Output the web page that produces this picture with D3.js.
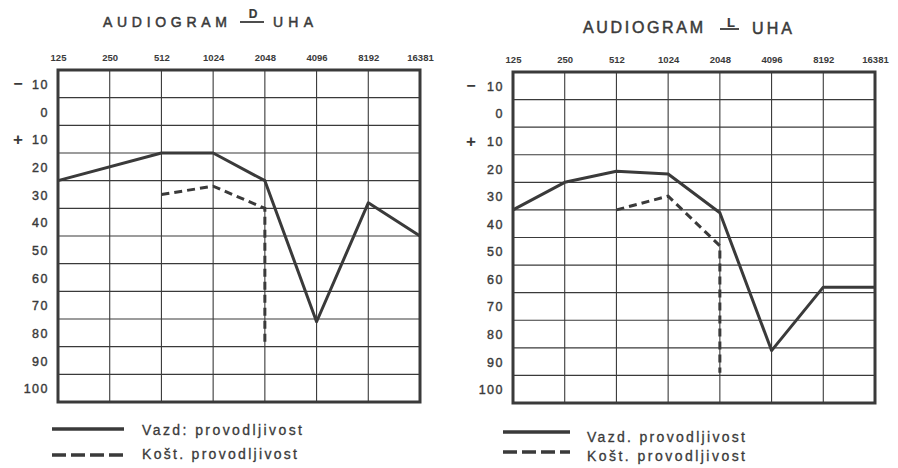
<!DOCTYPE html>
<html><head><meta charset="utf-8">
<script src="https://cdn.jsdelivr.net/npm/d3@7"></script>
<style>html,body{margin:0;padding:0;background:#fff;}svg{display:block;}</style>
</head><body>
<svg id="c" width="898" height="468"></svg>
<script>
// ---- data ----
const freqLabels = ["125","250","512","1024","2048","4096","8192","16381"];
const dbLabels = [-10,0,10,20,30,40,50,60,70,80,90,100];
const leftAirFreq = ["125","512","1024","2048","4096","8192","16381"];
const leftAirDb   = [25,15,15,25,76,33,45];
const leftBoneFreq = ["512","1024","2048","2048"];
const leftBoneDb   = [30,27,35,85];
const rightAirFreq = ["125","250","512","1024","2048","4096","8192","16381"];
const rightAirDb   = [35,25,21,22,36,86,63,63];
const rightBoneFreq = ["512","1024","2048","2048"];
const rightBoneDb   = [35,30,48,94];
const titleMain = "AUDIOGRAM", titleEnd = "UHA";
const legendAir = ["Vazd: provodljivost","Vazd. provodljivost"];
const legendBone = "Košt. provodljivost";

const ink = "#3a3a3a";
const svg = d3.select("#c");
const font = "'Liberation Sans', Arial, sans-serif";

function heavy(sel, w){ return sel.attr("stroke", ink).attr("stroke-width", w).attr("paint-order","stroke"); }

function panel(cfg){
  const g = svg.append("g");
  const x = d3.scalePoint().domain(freqLabels).range([cfg.x0, cfg.x1]);
  const y = d3.scaleLinear().domain([-15,105]).range([cfg.y0, cfg.y1]);
  const hg = d3.range(-5, 100, 10);
  g.selectAll(".hg").data(hg).join("line")
    .attr("x1", cfg.x0).attr("x2", cfg.x1)
    .attr("y1", d=>y(d)).attr("y2", d=>y(d))
    .attr("stroke", ink).attr("stroke-width", 1.1);
  g.selectAll(".vg").data(freqLabels.slice(1,-1)).join("line")
    .attr("x1", d=>x(d)).attr("x2", d=>x(d))
    .attr("y1", cfg.y0).attr("y2", cfg.y1)
    .attr("stroke", ink).attr("stroke-width", 1.1);
  g.append("rect").attr("x", cfg.x0).attr("y", cfg.y0)
    .attr("width", cfg.x1-cfg.x0).attr("height", cfg.y1-cfg.y0)
    .attr("fill","none").attr("stroke", ink).attr("stroke-width", 3);
  const ax = d3.axisTop(x).tickSize(0).tickPadding(0);
  const axg = g.append("g").attr("transform", `translate(0,${cfg.axY})`).call(ax);
  axg.select(".domain").remove();
  axg.selectAll("text").attr("font-family", font).attr("font-size", 9.5)
    .attr("font-weight","bold").attr("fill", ink).attr("dy", 0);
  const yl = g.append("g");
  heavy(yl.selectAll("text").data(dbLabels).join("text")
    .attr("x", cfg.x0 - 9).attr("y", d=>y(d)+5)
    .attr("text-anchor","end").attr("font-family", font).attr("font-size", 12.5)
    .attr("letter-spacing", 1.5).attr("fill", ink)
    .text(d=>Math.abs(d)), 0.4);
  yl.append("text").attr("x", cfg.signX).attr("y", y(-10)+5).attr("text-anchor","middle")
    .attr("font-family", font).attr("font-size", 16).attr("font-weight","bold").attr("fill", ink).text("−");
  yl.append("text").attr("x", cfg.signX).attr("y", y(10)+6).attr("text-anchor","middle")
    .attr("font-family", font).attr("font-size", 17).attr("font-weight","bold").attr("fill", ink).text("+");
  const line = d3.line().x(d=>x(d[0])).y(d=>y(d[1]));
  g.append("path").datum(d3.zip(cfg.airF, cfg.airV)).attr("d", line)
    .attr("fill","none").attr("stroke", ink).attr("stroke-width", 3).attr("stroke-linejoin","round");
  g.append("path").datum(d3.zip(cfg.boneF, cfg.boneV)).attr("d", line)
    .attr("fill","none").attr("stroke", ink).attr("stroke-width", 3).attr("stroke-dasharray","8,5");
  const t = cfg.title;
  heavy(g.append("text").attr("x", t.x).attr("y", t.y).attr("font-family", font).attr("font-size", t.fs)
    .attr("textLength", t.w).attr("lengthAdjust","spacing").attr("fill", ink).text(titleMain), 0.5);
  heavy(g.append("text").attr("x", t.lx).attr("y", t.ly).attr("font-family", font).attr("font-size", t.lfs)
    .attr("font-weight","bold").attr("text-anchor","middle").attr("fill", ink).text(cfg.letter), 0.2);
  g.append("line").attr("x1", t.ux0).attr("x2", t.ux1).attr("y1", t.uy).attr("y2", t.uy)
    .attr("stroke", ink).attr("stroke-width", 1.8);
  heavy(g.append("text").attr("x", t.ex).attr("y", t.ey).attr("font-family", font).attr("font-size", t.fs)
    .attr("textLength", t.ew).attr("lengthAdjust","spacing").attr("fill", ink).text(titleEnd), 0.5);
  const L = cfg.leg;
  g.append("line").attr("x1", L.x0).attr("x2", L.x1).attr("y1", L.y1).attr("y2", L.y1)
    .attr("stroke", ink).attr("stroke-width", 3.5);
  g.append("line").attr("x1", L.x0).attr("x2", L.x1).attr("y1", L.y2).attr("y2", L.y2)
    .attr("stroke", ink).attr("stroke-width", 3.5).attr("stroke-dasharray","14,5");
  heavy(g.append("text").attr("x", L.tx).attr("y", L.b1).attr("font-family", font).attr("font-size", 14)
    .attr("textLength", L.tw1).attr("lengthAdjust","spacing").attr("fill", ink).text(cfg.legAir), 0.3);
  heavy(g.append("text").attr("x", L.tx).attr("y", L.b2).attr("font-family", font).attr("font-size", 14)
    .attr("textLength", L.tw2).attr("lengthAdjust","spacing").attr("fill", ink).text(legendBone), 0.3);
}

panel({x0:58,x1:420,y0:70,y1:402,axY:61,signX:18,
  airF:leftAirFreq, airV:leftAirDb, boneF:leftBoneFreq, boneV:leftBoneDb, letter:"D",
  title:{x:103,y:27,fs:14,w:124,lx:253,ly:18,lfs:12,ux0:240,ux1:264,uy:22,ex:273,ey:27,ew:40},
  leg:{x0:52,x1:124,y1:429,y2:455,tx:142,b1:435,b2:459,tw1:160,tw2:155}, legAir:legendAir[0]});
panel({x0:513,x1:875,y0:72,y1:403,axY:63,signX:471,
  airF:rightAirFreq, airV:rightAirDb, boneF:rightBoneFreq, boneV:rightBoneDb, letter:"L",
  title:{x:583,y:33,fs:16,w:120,lx:731,ly:27,lfs:13,ux0:720,ux1:739,uy:29,ex:752,ey:34,ew:40},
  leg:{x0:503,x1:570,y1:432,y2:452,tx:587,b1:442,b2:461,tw1:158,tw2:158}, legAir:legendAir[1]});
</script>
</body></html>
